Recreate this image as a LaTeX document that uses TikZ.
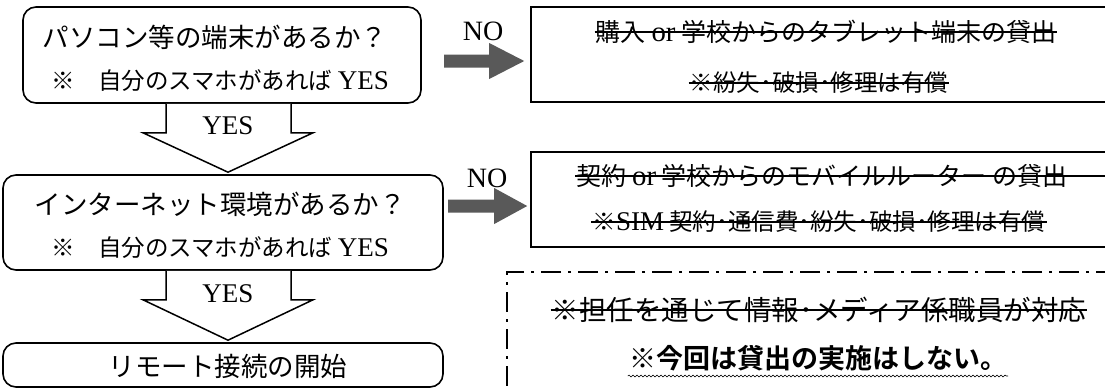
\documentclass[tikz,border=0pt]{standalone}
\usepackage{fontspec}
\setmainfont{Noto Sans CJK JP}[BoldFont={Noto Sans CJK JP Bold}]
\newfontfamily\lat{Liberation Serif}
\newfontfamily\latb{Liberation Serif}[Scale=1.15]
\usetikzlibrary{decorations.pathmorphing,calc}
\definecolor{nogray}{RGB}{89,89,89}
\newcommand\myfs[1]{\fontsize{#1}{#1}\selectfont}
\tikzset{
  rbox/.style={draw, line width=1.6pt, rounded corners=13pt, inner sep=0pt},
  sbox/.style={draw, line width=1.6pt, inner sep=0pt},
  dbox/.style={draw, line width=1.8pt, dash pattern=on 20pt off 7pt on 3pt off 7pt, inner sep=0pt},
  txt/.style={inner sep=1pt, anchor=center},
  strike/.style={line width=1.3pt},
  yesarrow/.style={draw, line width=1.5pt, fill=white, line join=miter},
  noarrow/.style={fill=nogray},
  wavy/.style={line width=0.6pt, decorate, decoration={snake, segment length=4pt, amplitude=0.9pt}},
}
\begin{document}
\begin{tikzpicture}[x=1pt,y=-1pt]
\useasboundingbox (0,0) rectangle (1105,389);
\fill[white] (0,0) rectangle (1105,389);
\clip (0,0) rectangle (1105,389);

% left boxes
\node[rbox, minimum width=398pt, minimum height=96pt] (b1) at (222,55) {};
\node[rbox, minimum width=440pt, minimum height=95pt] (b2) at (223,222.5) {};
\node[rbox, minimum width=440pt, minimum height=44pt] (b3) at (223,365) {};

\node[txt, font=\myfs{26.5}] (t1a) at (215,37) {パソコン等の端末があるか？};
\node[txt, font=\myfs{23.5}] (t1b) at (220,81) {※　自分のスマホがあれば {\latb YES}};
\node[txt, font=\myfs{26.5}] (t2a) at (220,204) {インターネット環境があるか？};
\node[txt, font=\myfs{23.5}] (t2b) at (220,248) {※　自分のスマホがあれば {\latb YES}};
\node[txt, font=\myfs{26.5}] (t3) at (228,366) {リモート接続の開始};

% YES arrows
\coordinate (ax) at (228,0);
\coordinate (a1) at (b1.south -| ax);
\coordinate (e1) at (b2.north -| ax);
\draw[yesarrow] ($(a1)+(-62,0)$) -- ++(0,29) -- ++(-23,0) -- ($(e1)+(0,-2)$) -- ($(a1)+(85,29)$) -- ++(-22,0) -- ++(0,-29);
\node[txt, font=\lat\myfs{27}] (yes1) at (228,126) {YES};
\coordinate (a2) at (b2.south -| ax);
\coordinate (e2) at (b3.north -| ax);
\draw[yesarrow] ($(a2)+(-62,0)$) -- ++(0,29) -- ++(-23,0) -- ($(e2)+(0,-2)$) -- ($(a2)+(85,29)$) -- ++(-22,0) -- ++(0,-29);
\node[txt, font=\lat\myfs{27}] (yes2) at (228,294) {YES};

% right boxes
\node[sbox, minimum width=590pt, minimum height=95pt] (r1) at (826,54.5) {};
\node[sbox, minimum width=590pt, minimum height=95pt] (r2) at (826,199.5) {};
\node[dbox, minimum width=618pt, minimum height=150pt] (d) at (816,347) {};

% NO arrows
\coordinate (n1) at (444,61);
\coordinate (p1) at ($(r1.west |- n1)+(-6,0)$);
\fill[noarrow] ($(n1)+(0,-6.5)$) -- ($(p1)+(-35,-6.5)$) -- ($(p1)+(-35,-18)$) -- (p1) -- ($(p1)+(-35,18)$) -- ($(p1)+(-35,6.5)$) -- ($(n1)+(0,6.5)$) -- cycle;
\node[txt, font=\lat\myfs{28}] (no1) at (483,31) {NO};
\coordinate (n2) at (448,206);
\coordinate (p2) at ($(r2.west |- n2)+(-3,0)$);
\fill[noarrow] ($(n2)+(0,-6.5)$) -- ($(p2)+(-33,-6.5)$) -- ($(p2)+(-33,-18)$) -- (p2) -- ($(p2)+(-33,18)$) -- ($(p2)+(-33,6.5)$) -- ($(n2)+(0,6.5)$) -- cycle;
\node[txt, font=\lat\myfs{28}] (no2) at (487,178) {NO};

% right texts
\node[txt, font=\myfs{25}] (r1a) at (826,32) {購入 {\latb or} 学校からのタブレット端末の貸出};
\draw[strike] (r1a.west) -- (r1a.east);
\node[txt, font=\myfs{23.5}] (r1b) at (819,83) {※紛失･破損･修理は有償};
\draw[strike] (r1b.west) -- (r1b.east);
\node[txt, font=\myfs{25}] (r2a) at (822,176) {契約 {\latb or} 学校からのモバイルルーター の貸出};
\coordinate (rx) at (1110,0);
\draw[strike] (r2a.west) -- (r2a.east -| rx);
\node[txt, font=\myfs{23.5}] (r2b) at (819,222) {※{\latb SIM} 契約･通信費･紛失･破損･修理は有償};
\draw[strike] (r2b.west) -- (r2b.east);
\node[txt, font=\myfs{27.5}] (d1) at (819,310) {※担任を通じて情報･メディア係職員が対応};
\draw[strike] (d1.west) -- (d1.east);
\node[txt, font=\bfseries\myfs{27}] (d2) at (818,358) {※今回は貸出の実施はしない。};
\coordinate (wy) at (0,376);
\draw[wavy] (d2.south west |- wy) -- (d2.south east |- wy);
\end{tikzpicture}
\end{document}
